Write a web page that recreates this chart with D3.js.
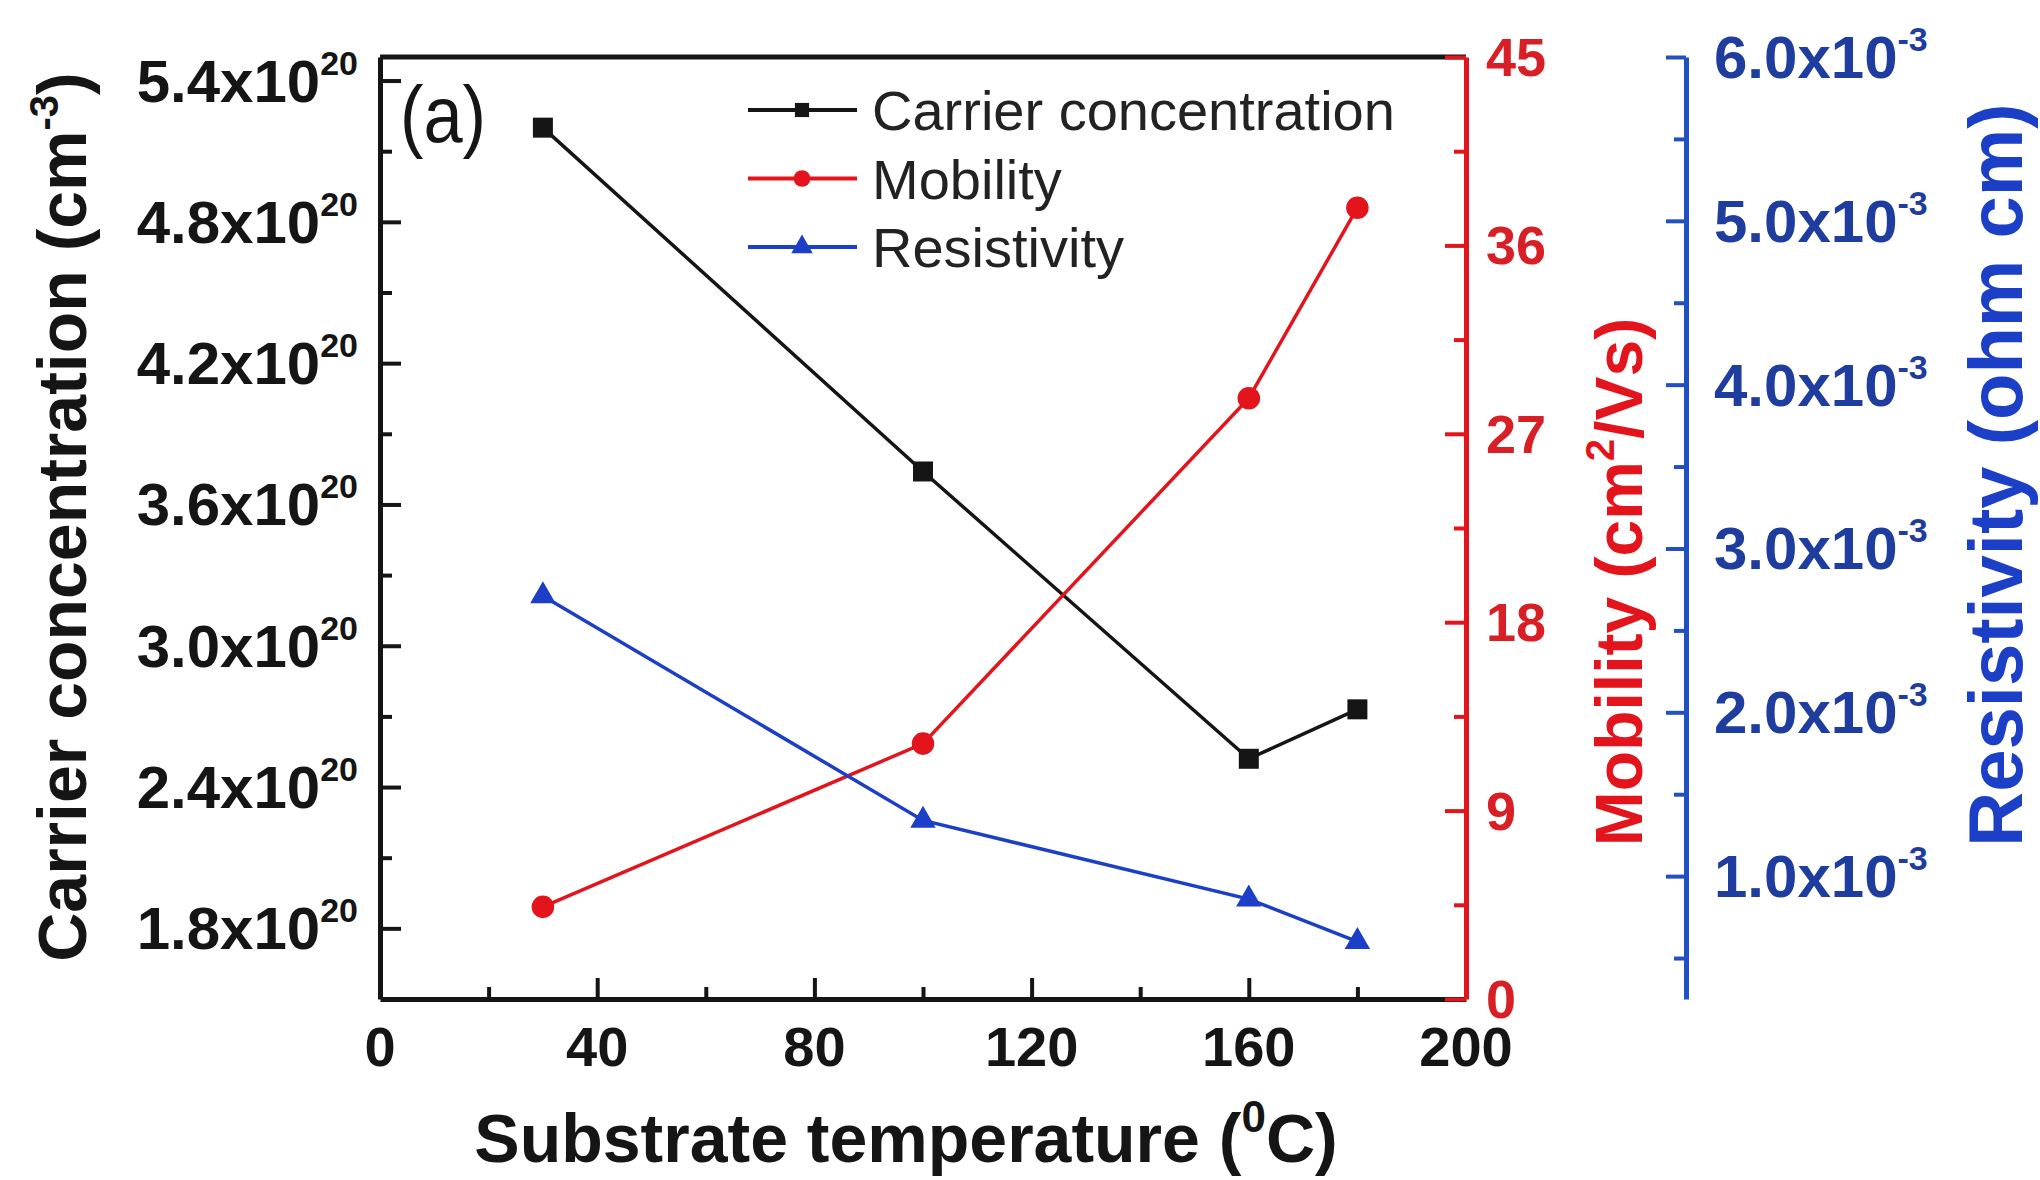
<!DOCTYPE html>
<html><head><meta charset="utf-8">
<script src="https://cdn.jsdelivr.net/npm/d3@7"></script>
<style>
body{margin:0;background:#fff;}
text{font-family:Arial,"Liberation Sans",Helvetica,sans-serif;}
</style>
</head><body>
<svg id="chart" width="2040" height="1180"></svg>
<script>
// ---- data ----
const temperature   = [30, 100, 160, 180];            // substrate temperature (°C)
const carrierConc   = [5.20, 3.74, 2.52, 2.73];       // x10^20 cm^-3
const mobility      = [4.4, 12.2, 28.7, 37.8];        // cm^2/Vs
const resistivity   = [2.71, 1.34, 0.86, 0.60];       // x10^-3 ohm cm
const seriesNames   = ["Carrier concentration", "Mobility", "Resistivity"];
const xTicks        = [0, 40, 80, 120, 160, 200];
const xMinor        = [20, 60, 100, 140, 180];
const carrierTicks  = [1.8, 2.4, 3.0, 3.6, 4.2, 4.8, 5.4];
const carrierMinor  = [2.1, 2.7, 3.3, 3.9, 4.5, 5.1];
const mobilityTicks = [0, 9, 18, 27, 36, 45];
const mobilityMinor = [4.5, 13.5, 22.5, 31.5, 40.5];
const resistTicks   = [1, 2, 3, 4, 5, 6];
const resistMinor   = [0.5, 1.5, 2.5, 3.5, 4.5, 5.5];

(function () {
// ---- styles ----
const BLACK = "#151515", RED = "#e3141c", BLUE = "#1b3fc6";
const RED_TXT = "#d91f26", BLUE_TXT = "#1e3d9e", BLUE_AX = "#2050c4";

const svg = d3.select("#chart");
const pL = 380, pR = 1466, pT = 57, pB = 999, blueX = 1686;

const x  = d3.scaleLinear().domain([0, 200]).range([pL, pR]);
const yL = d3.scaleLinear().domain([1.5, 5.5]).range([pB, pT]);
const yR = d3.scaleLinear().domain([0, 45]).range([pB, pT]);
const yB = d3.scaleLinear().domain([0.25, 6.0]).range([pB, pT]);

function styleAxis(g, color, w) {
  g.select(".domain").attr("stroke", color).attr("stroke-width", w);
  g.selectAll(".tick line").attr("stroke", color).attr("stroke-width", 4);
  g.selectAll(".tick text").remove();
}

// top frame line
svg.append("line").attr("x1", pL).attr("x2", pR).attr("y1", pT).attr("y2", pT)
  .attr("stroke", BLACK).attr("stroke-width", 5);

// bottom x axis (ticks inward)
const gx = svg.append("g").attr("transform", `translate(0,${pB})`)
  .call(d3.axisBottom(x).tickValues(xTicks).tickSize(-21).tickSizeOuter(0));
styleAxis(gx, BLACK, 5);
const gxm = svg.append("g").attr("transform", `translate(0,${pB})`)
  .call(d3.axisBottom(x).tickValues(xMinor).tickSize(-12).tickSizeOuter(0));
styleAxis(gxm, BLACK, 0); gxm.select(".domain").remove();
svg.append("g").selectAll("text").data(xTicks).join("text")
  .attr("x", d => x(d)).attr("y", 1066).attr("text-anchor", "middle")
  .attr("font-size", 56).attr("font-weight", "bold").attr("fill", BLACK).text(d => d);

// left axis
const gl = svg.append("g").attr("transform", `translate(${pL},0)`)
  .call(d3.axisLeft(yL).tickValues(carrierTicks).tickSize(-21).tickSizeOuter(0));
styleAxis(gl, BLACK, 5);
const glm = svg.append("g").attr("transform", `translate(${pL},0)`)
  .call(d3.axisLeft(yL).tickValues(carrierMinor).tickSize(-12).tickSizeOuter(0));
styleAxis(glm, BLACK, 0); glm.select(".domain").remove();
const lt = svg.append("g").selectAll("text").data(carrierTicks).join("text")
  .attr("x", 358).attr("y", d => yL(d) + 21).attr("text-anchor", "end")
  .attr("font-size", 60).attr("font-weight", "bold").attr("fill", BLACK);
lt.append("tspan").text(d => d.toFixed(1) + "x10");
lt.append("tspan").attr("dy", -27).attr("font-size", 34).text("20");

// right red axis
const gr = svg.append("g").attr("transform", `translate(${pR},0)`)
  .call(d3.axisRight(yR).tickValues(mobilityTicks).tickSize(-21).tickSizeOuter(0));
styleAxis(gr, RED, 5);
const grm = svg.append("g").attr("transform", `translate(${pR},0)`)
  .call(d3.axisRight(yR).tickValues(mobilityMinor).tickSize(-12).tickSizeOuter(0));
styleAxis(grm, RED, 0); grm.select(".domain").remove();
svg.append("g").selectAll("text").data(mobilityTicks).join("text")
  .attr("x", pR + 20).attr("y", d => yR(d) + 19)
  .attr("font-size", 54).attr("font-weight", "bold").attr("fill", RED_TXT).text(d => d);

// blue axis (offset)
const gb = svg.append("g").attr("transform", `translate(${blueX},0)`)
  .call(d3.axisRight(yB).tickValues(resistTicks).tickSize(-20).tickSizeOuter(0));
styleAxis(gb, BLUE_AX, 5);
const gbm = svg.append("g").attr("transform", `translate(${blueX},0)`)
  .call(d3.axisRight(yB).tickValues(resistMinor).tickSize(-12).tickSizeOuter(0));
styleAxis(gbm, BLUE_AX, 0); gbm.select(".domain").remove();
const bt = svg.append("g").selectAll("text").data(resistTicks).join("text")
  .attr("x", blueX + 28).attr("y", d => yB(d) + 21)
  .attr("font-size", 60).attr("font-weight", "bold").attr("fill", BLUE_TXT);
bt.append("tspan").text(d => d.toFixed(1) + "x10");
bt.append("tspan").attr("dy", -27).attr("font-size", 34).text("-3");

// axis titles
const t1 = svg.append("text").attr("transform", "translate(86,517) rotate(-90)")
  .attr("text-anchor", "middle").attr("font-size", 68).attr("font-weight", "bold").attr("fill", BLACK);
t1.append("tspan").text("Carrier concentration (cm");
t1.append("tspan").attr("dy", -28).attr("font-size", 40).text("-3");
t1.append("tspan").attr("dy", 28).text(")");

const t2 = svg.append("text").attr("transform", "translate(1642,582) rotate(-90)")
  .attr("text-anchor", "middle").attr("font-size", 66).attr("font-weight", "bold").attr("fill", RED);
t2.append("tspan").text("Mobility (cm");
t2.append("tspan").attr("dy", -28).attr("font-size", 40).text("2");
t2.append("tspan").attr("dy", 28).text("/Vs)");

svg.append("text").attr("transform", "translate(2022,475) rotate(-90)")
  .attr("text-anchor", "middle").attr("font-size", 76).attr("font-weight", "bold").attr("fill", BLUE)
  .text("Resistivity (ohm cm)");

const t4 = svg.append("text").attr("x", 906).attr("y", 1162)
  .attr("text-anchor", "middle").attr("font-size", 68).attr("font-weight", "bold").attr("fill", BLACK);
t4.append("tspan").text("Substrate temperature (");
t4.append("tspan").attr("dy", -30).attr("font-size", 44).text("0");
t4.append("tspan").attr("dy", 30).text("C)");

// panel label
svg.append("text").attr("transform", "translate(400,142) scale(0.88,1)")
  .attr("font-size", 80).attr("fill", BLACK).text("(a)");

// ---- series ----
const series = [
  {name: seriesNames[0], vals: carrierConc, y: yL, color: BLACK, sym: d3.symbolSquare, size: 400, lsize: 200},
  {name: seriesNames[1], vals: mobility,    y: yR, color: RED,   sym: d3.symbolCircle, size: 400, lsize: 220},
  {name: seriesNames[2], vals: resistivity, y: yB, color: BLUE,  sym: d3.symbolTriangle, size: 280, lsize: 200}
];

series.forEach(s => {
  const pts = temperature.map((t, i) => [t, s.vals[i]]);
  svg.append("path").datum(pts)
    .attr("d", d3.line().x(d => x(d[0])).y(d => s.y(d[1])))
    .attr("fill", "none").attr("stroke", s.color).attr("stroke-width", 3.5);
  svg.append("g").selectAll("path").data(pts).join("path")
    .attr("transform", d => `translate(${x(d[0])},${s.y(d[1])})`)
    .attr("d", d3.symbol().type(s.sym).size(s.size)).attr("fill", s.color);
});

// ---- legend ----
const lg = svg.append("g");
series.forEach((s, i) => {
  const cy = 110 + i * 68.5;
  lg.append("line").attr("x1", 748).attr("x2", 857).attr("y1", cy).attr("y2", cy)
    .attr("stroke", s.color).attr("stroke-width", 4);
  lg.append("path").attr("transform", `translate(802,${cy})`)
    .attr("d", d3.symbol().type(s.sym).size(s.lsize)).attr("fill", s.color);
  lg.append("text").attr("x", 872).attr("y", cy + 20).attr("font-size", 56)
    .attr("fill", "#222").text(s.name);
});
})();
</script>
</body></html>
